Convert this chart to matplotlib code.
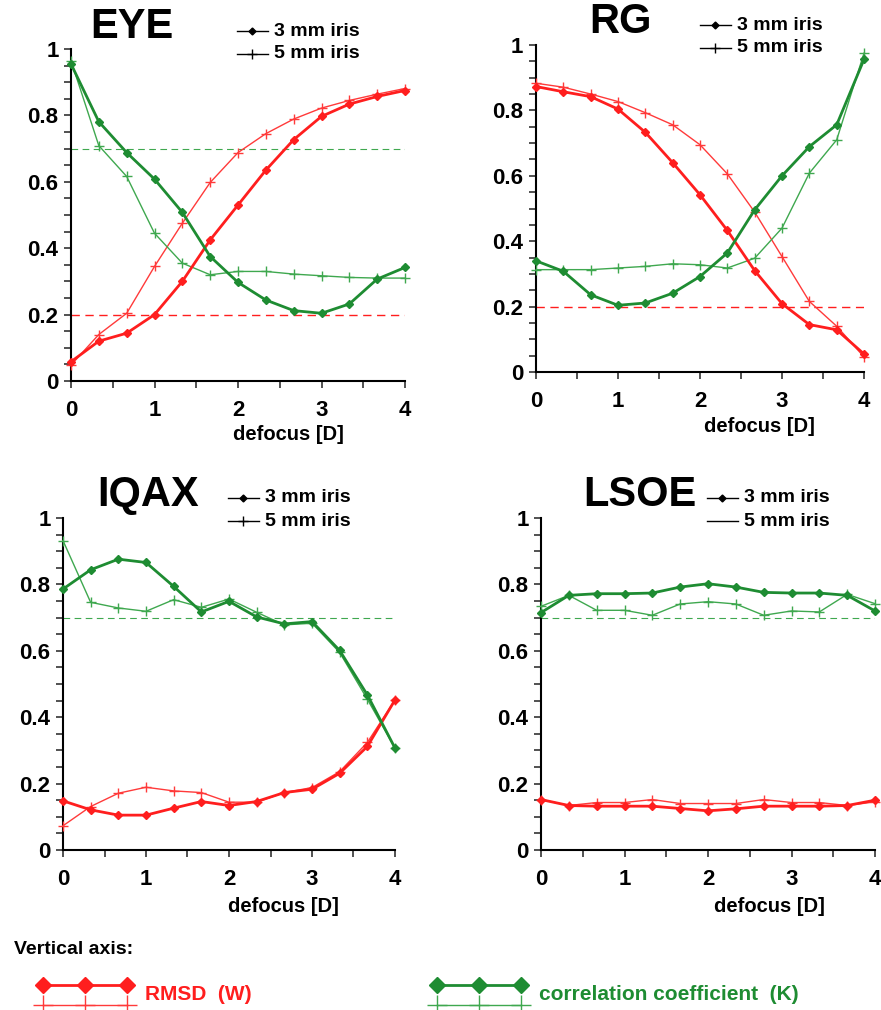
import numpy as np
import matplotlib
matplotlib.use("Agg")
import matplotlib.pyplot as plt
from matplotlib.lines import Line2D
from matplotlib.ticker import MultipleLocator

# defocus steps [D]
defocus = [0, 0.333, 0.667, 1, 1.333, 1.667, 2, 2.333, 2.667, 3, 3.333, 3.667, 4]

# EYE
eye_rmsd_3 = [0.058, 0.12, 0.144, 0.20, 0.30, 0.425, 0.53, 0.635, 0.727, 0.797, 0.834, 0.857, 0.875]
eye_rmsd_5 = [0.048, 0.14, 0.204, 0.345, 0.475, 0.598, 0.688, 0.745, 0.789, 0.822, 0.845, 0.864, 0.881]
eye_corr_3 = [0.955, 0.781, 0.688, 0.608, 0.508, 0.375, 0.297, 0.244, 0.212, 0.204, 0.232, 0.307, 0.342]
eye_corr_5 = [0.965, 0.709, 0.616, 0.445, 0.355, 0.32, 0.33, 0.33, 0.322, 0.317, 0.312, 0.31, 0.31]

# RG
rg_rmsd_3 = [0.873, 0.857, 0.842, 0.804, 0.733, 0.64, 0.542, 0.433, 0.31, 0.209, 0.145, 0.129, 0.055]
rg_rmsd_5 = [0.883, 0.871, 0.85, 0.827, 0.793, 0.756, 0.695, 0.606, 0.489, 0.353, 0.216, 0.14, 0.046]
rg_corr_3 = [0.34, 0.308, 0.236, 0.204, 0.211, 0.241, 0.292, 0.364, 0.496, 0.60, 0.689, 0.756, 0.956]
rg_corr_5 = [0.313, 0.313, 0.313, 0.318, 0.323, 0.331, 0.328, 0.318, 0.348, 0.44, 0.608, 0.71, 0.975]

# IQAX
iqax_rmsd_3 = [0.148, 0.121, 0.105, 0.105, 0.126, 0.146, 0.134, 0.146, 0.173, 0.183, 0.231, 0.312, 0.452]
iqax_rmsd_5 = [0.073, 0.131, 0.171, 0.189, 0.178, 0.173, 0.144, 0.144, 0.173, 0.188, 0.236, 0.324, 0.452]
iqax_corr_3 = [0.786, 0.844, 0.876, 0.866, 0.794, 0.717, 0.749, 0.702, 0.681, 0.688, 0.601, 0.467, 0.307]
iqax_corr_5 = [0.932, 0.746, 0.729, 0.719, 0.754, 0.731, 0.756, 0.716, 0.678, 0.683, 0.595, 0.454, 0.307]

# LSOE
lsoe_rmsd_3 = [0.152, 0.134, 0.132, 0.132, 0.132, 0.125, 0.118, 0.124, 0.132, 0.132, 0.132, 0.134, 0.15]
lsoe_rmsd_5 = [0.152, 0.134, 0.143, 0.143, 0.152, 0.14, 0.14, 0.14, 0.152, 0.143, 0.143, 0.134, 0.145]
lsoe_corr_3 = [0.715, 0.767, 0.772, 0.772, 0.774, 0.792, 0.802, 0.792, 0.776, 0.774, 0.774, 0.767, 0.72]
lsoe_corr_5 = [0.734, 0.767, 0.722, 0.722, 0.707, 0.741, 0.748, 0.741, 0.707, 0.72, 0.717, 0.77, 0.742]

RED = '#ff1e1e'
RED_LT = '#ff3a3a'
GREEN = '#1e8c32'
GREEN_LT = '#3fa84f'
NARROW = ['Liberation Sans Narrow', 'DejaVu Sans Condensed', 'Liberation Sans']
SANS = ['Liberation Sans', 'DejaVu Sans']

W, H = 881, 1010
fig = plt.figure(figsize=(W / 100, H / 100), dpi=100)


def px_axes(left, top, right, bottom):
    return fig.add_axes([left / W, 1 - bottom / H, (right - left) / W, (bottom - top) / H])


def ftext(x, y, s, **kw):
    fig.text(x / W, 1 - y / H, s, **kw)


def key_line(xs, y, **kw):
    fig.add_artist(Line2D([x / W for x in xs], [1 - y / H] * len(xs),
                          transform=fig.transFigure, **kw))


panels = [
    # name, box, rmsd3, rmsd5, corr3, corr5, red dash, green dash,
    # title xy, legend x/y, plus in legend, xlabel xy
    ('EYE', (71, 49, 405, 381), eye_rmsd_3, eye_rmsd_5, eye_corr_3, eye_corr_5, True, True,
     (132, 27), (237, 31), True, (288, 435)),
    ('RG', (536, 45, 864, 372), rg_rmsd_3, rg_rmsd_5, rg_corr_3, rg_corr_5, True, False,
     (621, 22), (700, 25), True, (759, 427)),
    ('IQAX', (63, 518, 395, 850), iqax_rmsd_3, iqax_rmsd_5, iqax_corr_3, iqax_corr_5, False, True,
     (148, 495), (228, 498), True, (283, 906)),
    ('LSOE', (541, 518, 875, 850), lsoe_rmsd_3, lsoe_rmsd_5, lsoe_corr_3, lsoe_corr_5, False, True,
     (640, 495), (707, 498), False, (769, 906)),
]

for name, box, r3, r5, c3, c5, red_dash, green_dash, tpos, lpos, plus_leg, xlab in panels:
    ax = px_axes(*box)
    ax.set_xlim(0, 4)
    ax.set_ylim(0, 1)
    ax.spines['top'].set_visible(False)
    ax.spines['right'].set_visible(False)
    ax.spines['left'].set_linewidth(1.5)
    ax.spines['bottom'].set_linewidth(1.5)

    if red_dash:
        ax.axhline(0.2, color=RED, lw=1.0, ls=(0, (6, 4)))
    if green_dash:
        ax.axhline(0.7, color=GREEN_LT, lw=0.8, ls=(0, (6, 4)))

    ax.plot(defocus, r5, color=RED_LT, lw=1.0, marker='+', ms=7, mew=1.0, clip_on=False, zorder=3)
    ax.plot(defocus, c5, color=GREEN_LT, lw=1.0, marker='+', ms=7, mew=1.0, clip_on=False, zorder=3)
    ax.plot(defocus, r3, color=RED, lw=2.0, marker='D', ms=4.5, clip_on=False, zorder=4)
    ax.plot(defocus, c3, color=GREEN, lw=2.0, marker='D', ms=4.5, clip_on=False, zorder=4)

    ax.xaxis.set_major_locator(MultipleLocator(1))
    ax.xaxis.set_minor_locator(MultipleLocator(0.5))
    ax.yaxis.set_minor_locator(MultipleLocator(0.05))
    ax.tick_params(which='both', direction='out', length=5, width=1.2, color='#333333')
    ax.tick_params(axis='x', pad=9)
    ax.tick_params(axis='y', pad=4)
    ax.set_yticks([0, 0.2, 0.4, 0.6, 0.8, 1.0])
    ax.set_yticklabels(['0', '0.2', '0.4', '0.6', '0.8', '1'])
    for lab in ax.get_xticklabels() + ax.get_yticklabels():
        lab.set_fontfamily(NARROW)
        lab.set_fontweight('bold')
        lab.set_fontsize(16)

    ftext(xlab[0], xlab[1], 'defocus [D]', fontsize=14.5, fontweight='bold', family=NARROW,
          ha='center', va='center')
    ftext(tpos[0], tpos[1], name, fontsize=30, fontweight='bold', family=SANS,
          ha='center', va='center')

    lx, ly = lpos
    key_line([lx, lx + 15, lx + 31], ly, color='black', lw=1.0,
             marker='D', ms=3.5, markevery=[1])
    key_line([lx, lx + 15, lx + 31], ly + 23, color='black', lw=1.0,
             marker='+' if plus_leg else None, ms=7, markevery=[1])
    ftext(lx + 37, ly, '3 mm iris', fontsize=14, fontweight='bold', family=SANS, va='center')
    ftext(lx + 37, ly + 23, '5 mm iris', fontsize=14, fontweight='bold', family=SANS, va='center')

# bottom key
ftext(14, 950, 'Vertical axis:', fontsize=14, fontweight='bold', family=NARROW, va='center')
for x0, col, col_lt, label in [(43, RED, RED_LT, 'RMSD  (W)'),
                               (437, GREEN, GREEN_LT, 'correlation coefficient  (K)')]:
    xs = [x0, x0 + 42, x0 + 84]
    key_line(xs, 985, color=col, lw=2.0, marker='D', ms=8.5)
    key_line(xs, 1005, color=col_lt, lw=1.0, marker='+', ms=14, mew=1.0)
    ftext(x0 + 102, 994, label, fontsize=15, fontweight='bold', family=NARROW,
          color=col, va='center')

fig.savefig('out.png', dpi=100)
